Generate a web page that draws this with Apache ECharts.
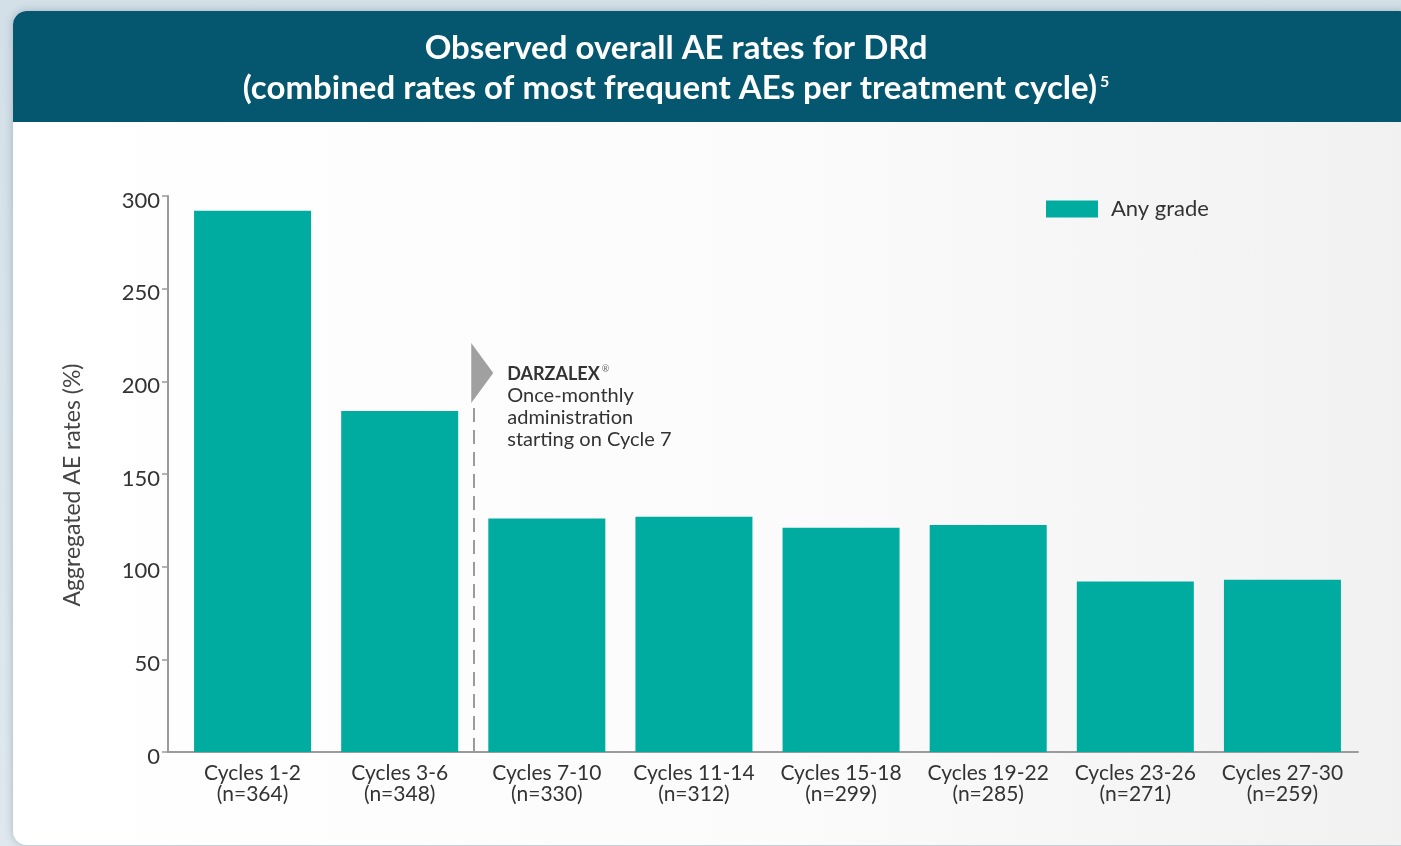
<!DOCTYPE html>
<html>
<head>
<meta charset="utf-8">
<title>Observed overall AE rates for DRd</title>
<script src="https://cdn.jsdelivr.net/npm/echarts@6/dist/echarts.min.js"></script>
<style>
  html, body {
    margin: 0;
    padding: 0;
    width: 1401px;
    height: 846px;
    overflow: hidden;
    background: linear-gradient(180deg, #d3e0e8, #dfe8ee);
    font-family: Lato, 'Noto Sans', sans-serif;
  }
  .card {
    position: absolute;
    left: 13px;
    top: 11px;
    width: 1400px;
    height: 834px;
    border-radius: 14px;
    overflow: hidden;
    background: linear-gradient(90deg, #ffffff 0%, #fbfbfb 55%, #f1f1f1 100%);
    box-shadow: 0 0 8px rgba(60, 90, 110, 0.35);
  }
  .card .head {
    height: 111px;
    background: #04576f;
  }
  #chart {
    position: absolute;
    left: 0;
    top: 0;
    width: 1401px;
    height: 846px;
  }
</style>
</head>
<body>
<div class="card"><div class="head"></div></div>
<div id="chart"></div>
<script>
const categories = [
  'Cycles 1-2\n(n=364)',
  'Cycles 3-6\n(n=348)',
  'Cycles 7-10\n(n=330)',
  'Cycles 11-14\n(n=312)',
  'Cycles 15-18\n(n=299)',
  'Cycles 19-22\n(n=285)',
  'Cycles 23-26\n(n=271)',
  'Cycles 27-30\n(n=259)'
]
const anyGrade = [292, 184, 126, 127, 121, 122.5, 92, 93]
const yTicks = [0, 50, 100, 150, 200, 250, 300]

// once-monthly dosing marker sits between category 2 and 3
const markerPos = 2
const markerLineTop = 187
const markerArrowAt = 204.5

const FONT = 'Lato, "Noto Sans", sans-serif'
const TEAL = '#00ab9f'
const GREY = '#9b9b9b'

const chart = echarts.init(document.getElementById('chart'), null, { renderer: 'canvas' })

const option = {
  animation: false,
  textStyle: { fontFamily: FONT },
  title: {
    left: 671,
    top: 23,
    textAlign: 'center',
    text: '{t|Observed overall AE rates for DRd}\n{t|(combined rates of most frequent AEs per treatment cycle)}{s|5}',
    textStyle: {
      rich: {
        t: { color: '#ffffff', fontSize: 33, fontWeight: 'bold', lineHeight: 40, fontFamily: FONT },
        s: { color: '#ffffff', fontSize: 16, lineHeight: 16, verticalAlign: 'top', padding: [6, 0, 0, 3], fontFamily: FONT }
      }
    }
  },
  legend: {
    data: ['Any grade'],
    left: 1041,
    top: 193,
    itemWidth: 52,
    itemHeight: 17,
    icon: 'rect',
    selectedMode: false,
    textStyle: { color: '#333', fontSize: 22, padding: [0, 0, 0, 8], fontFamily: FONT }
  },
  grid: [
    { left: 179, right: 45, top: 196, bottom: 94 },
    { left: 168, right: 43, top: 196, bottom: 94 }
  ],
  xAxis: [
    {
      type: 'category',
      gridIndex: 0,
      data: categories,
      axisLine: { show: false },
      axisTick: { show: false },
      axisLabel: { color: '#333', fontSize: 21, lineHeight: 21, margin: 11, interval: 0, fontFamily: FONT }
    },
    {
      type: 'value',
      gridIndex: 1,
      min: 0,
      max: 1,
      axisLine: { show: true, lineStyle: { color: GREY, width: 2 } },
      axisTick: { show: false },
      axisLabel: { show: false },
      splitLine: { show: false }
    },
    {
      type: 'value',
      gridIndex: 0,
      min: 0,
      max: categories.length,
      show: false
    }
  ],
  yAxis: [
    {
      type: 'value',
      gridIndex: 0,
      min: 0,
      max: 300,
      show: false
    },
    {
      type: 'value',
      gridIndex: 1,
      min: yTicks[0],
      max: yTicks[yTicks.length - 1],
      interval: 50,
      name: 'Aggregated AE rates (%)',
      nameLocation: 'middle',
      nameGap: 84,
      nameTextStyle: { color: '#444', fontSize: 23, padding: [0, 22, 0, 0], fontFamily: FONT },
      axisLine: { show: true, lineStyle: { color: GREY, width: 2 } },
      axisTick: { show: true, inside: false, length: 6, lineStyle: { color: GREY, width: 1.5 } },
      axisLabel: {
        margin: 8,
        formatter: '{v|{value}}',
        rich: {
          v: { color: '#333', fontSize: 22, padding: [9, 0, 0, 0], fontFamily: FONT }
        }
      },
      splitLine: { show: false }
    }
  ],
  series: [
    {
      name: 'Any grade',
      type: 'bar',
      xAxisIndex: 0,
      yAxisIndex: 0,
      data: anyGrade,
      barWidth: 117,
      itemStyle: { color: TEAL }
    },
    {
      name: 'marker',
      type: 'scatter',
      xAxisIndex: 2,
      yAxisIndex: 0,
      data: [[markerPos, 0]],
      symbolSize: 0,
      silent: true,
      markLine: {
        symbol: 'none',
        silent: true,
        label: { show: false },
        lineStyle: { color: GREY, width: 2, type: [14, 8] },
        data: [[{ coord: [markerPos, 0] }, { coord: [markerPos, markerLineTop] }]]
      },
      markPoint: {
        silent: true,
        symbol: 'path://M0,0 L1,0.5 L0,1 Z',
        symbolSize: [22, 60],
        symbolOffset: [9, 0],
        itemStyle: { color: '#a0a0a0' },
        label: {
          show: true,
          position: 'right',
          distance: 14,
          align: 'left',
          offset: [0, 34],
          formatter: '{b|DARZALEX}{r|®}\n{n|Once-monthly}\n{n|administration}\n{n|starting on Cycle 7}',
          rich: {
            b: { color: '#333', fontSize: 18, fontWeight: 'bold', lineHeight: 22, fontFamily: FONT },
            r: { color: '#666', fontSize: 9, lineHeight: 9, verticalAlign: 'top', padding: [2, 0, 0, 2], fontFamily: FONT },
            n: { color: '#333', fontSize: 20, lineHeight: 22, fontFamily: FONT }
          }
        },
        data: [{ coord: [markerPos, markerArrowAt] }]
      }
    }
  ]
}

chart.setOption(option)
</script>
</body>
</html>
